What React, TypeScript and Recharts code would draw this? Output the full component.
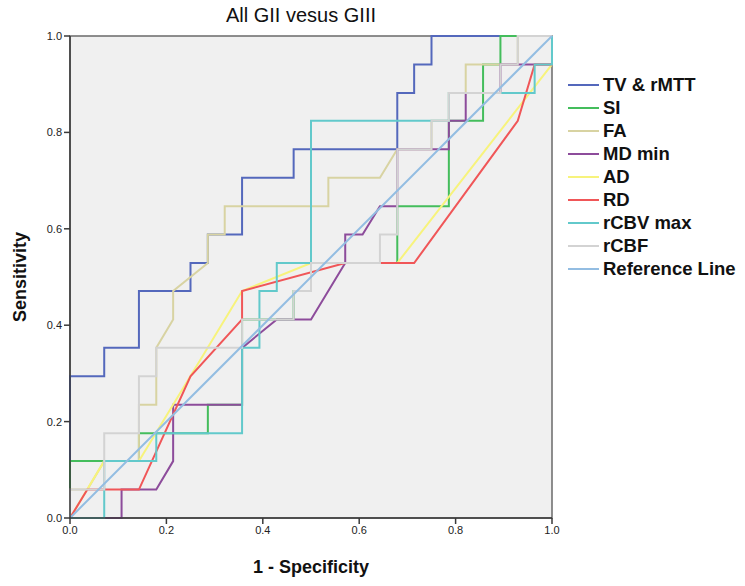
import { LineChart, Line, XAxis, YAxis, ReferenceArea } from 'recharts';

// ROC curves, [1 - specificity, sensitivity]
const TICKS = [0, 0.2, 0.4, 0.6, 0.8, 1.0];

const TV_RMTT = [[0, 0], [0, 0.294], [0.071, 0.294], [0.071, 0.353], [0.143, 0.353], [0.143, 0.471], [0.25, 0.471], [0.25, 0.529], [0.286, 0.529], [0.286, 0.588], [0.357, 0.588], [0.357, 0.706], [0.464, 0.706], [0.464, 0.765], [0.679, 0.765], [0.679, 0.882], [0.714, 0.882], [0.714, 0.941], [0.75, 0.941], [0.75, 1], [1, 1]];
const SI = [[0, 0], [0, 0.118], [0.143, 0.118], [0.143, 0.176], [0.286, 0.176], [0.286, 0.235], [0.357, 0.235], [0.357, 0.412], [0.464, 0.412], [0.464, 0.471], [0.5, 0.471], [0.5, 0.529], [0.679, 0.529], [0.679, 0.647], [0.786, 0.647], [0.786, 0.824], [0.857, 0.824], [0.857, 0.941], [0.893, 0.941], [0.893, 1], [1, 1]];
const FA = [[0, 0], [0, 0.059], [0.036, 0.059], [0.071, 0.118], [0.143, 0.118], [0.143, 0.235], [0.179, 0.235], [0.179, 0.353], [0.214, 0.412], [0.214, 0.471], [0.286, 0.529], [0.286, 0.588], [0.321, 0.588], [0.321, 0.647], [0.536, 0.647], [0.536, 0.706], [0.643, 0.706], [0.679, 0.765], [0.75, 0.765], [0.75, 0.824], [0.786, 0.824], [0.786, 0.882], [0.821, 0.882], [0.821, 0.941], [0.929, 0.941], [0.929, 1], [1, 1]];
const MD_MIN = [[0, 0], [0.107, 0], [0.107, 0.059], [0.179, 0.059], [0.214, 0.118], [0.214, 0.235], [0.357, 0.235], [0.357, 0.353], [0.429, 0.412], [0.5, 0.412], [0.571, 0.529], [0.571, 0.588], [0.607, 0.588], [0.643, 0.647], [0.679, 0.647], [0.679, 0.765], [0.786, 0.765], [0.786, 0.824], [0.821, 0.824], [0.821, 0.882], [0.893, 0.882], [0.893, 0.941], [0.964, 0.941], [1, 0.941], [1, 1]];
const AD = [[0, 0], [0.071, 0.118], [0.143, 0.118], [0.357, 0.471], [0.5, 0.529], [0.679, 0.529], [1, 0.941], [1, 1]];
const RD = [[0, 0], [0.036, 0.059], [0.143, 0.059], [0.25, 0.294], [0.357, 0.412], [0.357, 0.471], [0.571, 0.529], [0.714, 0.529], [0.929, 0.824], [0.964, 0.941], [1, 0.941], [1, 1]];
const RCBV_MAX = [[0, 0], [0.071, 0], [0.071, 0.118], [0.179, 0.118], [0.179, 0.176], [0.357, 0.176], [0.357, 0.353], [0.393, 0.353], [0.393, 0.471], [0.429, 0.471], [0.429, 0.529], [0.5, 0.529], [0.5, 0.824], [0.786, 0.824], [0.786, 0.882], [0.964, 0.882], [0.964, 0.941], [1, 0.941], [1, 1]];
const RCBF = [[0, 0], [0, 0.059], [0.071, 0.059], [0.071, 0.176], [0.143, 0.176], [0.143, 0.294], [0.179, 0.294], [0.179, 0.353], [0.357, 0.353], [0.357, 0.412], [0.464, 0.412], [0.464, 0.471], [0.5, 0.471], [0.5, 0.529], [0.643, 0.529], [0.643, 0.588], [0.679, 0.588], [0.679, 0.765], [0.75, 0.765], [0.75, 0.824], [0.786, 0.824], [0.786, 0.882], [0.893, 0.882], [0.893, 0.941], [0.929, 0.941], [0.929, 1], [1, 1]];
const REFERENCE = [[0, 0], [1, 1]];

const SERIES = [
  { name: 'TV & rMTT', color: '#5468bc', pts: TV_RMTT },
  { name: 'SI', color: '#44bd5c', pts: SI },
  { name: 'FA', color: '#d8d3a2', pts: FA },
  { name: 'MD min', color: '#8d4c9b', pts: MD_MIN },
  { name: 'AD', color: '#f7f37c', pts: AD },
  { name: 'RD', color: '#f05658', pts: RD },
  { name: 'rCBV max', color: '#62c9cb', pts: RCBV_MAX },
  { name: 'rCBF', color: '#d3d3d3', pts: RCBF },
  { name: 'Reference Line', color: '#93bde2', pts: REFERENCE },
];

const FONT = 'Arial, "Liberation Sans", sans-serif';
const AXIS = '#3a3a3a';
const TICK_STYLE = { fill: '#222', fontSize: 11, fontFamily: FONT };

const toRows = (pts: number[][]) => pts.map(([fpr, tpr]) => ({ fpr, tpr }));

function XTitle({ viewBox }: any) {
  return (
    <text x={viewBox.x + viewBox.width / 2} y={viewBox.y + 55} textAnchor="middle"
      fontFamily={FONT} fontSize={18} fontWeight="bold" fill="#111">
      1 - Specificity
    </text>
  );
}

function YTitle({ viewBox }: any) {
  const cy = viewBox.y + viewBox.height / 2;
  return (
    <text x={26} y={cy} transform={`rotate(-90, 26, ${cy})`} textAnchor="middle"
      fontFamily={FONT} fontSize={18} fontWeight="bold" fill="#111">
      Sensitivity
    </text>
  );
}

export default function App() {
  return (
    <div style={{ position: 'absolute', left: 0, top: 0, width: 745, height: 586, background: '#fff', fontFamily: FONT }}>
      <div style={{ position: 'absolute', left: 151, width: 300, top: 4, textAlign: 'center', fontSize: 20, color: '#111' }}>
        All GII vesus GIII
      </div>
      <LineChart width={745} height={586} margin={{ top: 36, right: 193, bottom: 0, left: 0 }}>
        <XAxis
          type="number"
          dataKey="fpr"
          domain={[0, 1]}
          ticks={TICKS}
          tickFormatter={(v: number) => v.toFixed(1)}
          height={68}
          tick={TICK_STYLE}
          tickSize={6}
          axisLine={{ stroke: AXIS, strokeWidth: 1.5 }}
          tickLine={{ stroke: AXIS, strokeWidth: 1.5 }}
          label={{ content: XTitle }}
        />
        <YAxis
          type="number"
          domain={[0, 1]}
          ticks={TICKS}
          tickFormatter={(v: number) => v.toFixed(1)}
          width={70}
          tick={TICK_STYLE}
          tickSize={6}
          axisLine={{ stroke: AXIS, strokeWidth: 1.5 }}
          tickLine={{ stroke: AXIS, strokeWidth: 1.5 }}
          label={{ content: YTitle }}
        />
        <ReferenceArea x1={0} x2={1} y1={0} y2={1} fill="#f0f0f0" fillOpacity={1} stroke="#6a6a6a" strokeWidth={1.5} />
        {SERIES.map((s) => (
          <Line
            key={s.name}
            data={toRows(s.pts)}
            dataKey="tpr"
            type="linear"
            stroke={s.color}
            strokeWidth={2}
            dot={false}
            activeDot={false}
            isAnimationActive={false}
          />
        ))}
      </LineChart>
      <div style={{ position: 'absolute', left: 567, top: 73 }}>
        {SERIES.map((s) => (
          <div key={s.name} style={{ display: 'flex', alignItems: 'center', height: 23 }}>
            <svg width={33} height={6} style={{ marginRight: 3 }}>
              <line x1={1} y1={3} x2={32} y2={3} stroke={s.color} strokeWidth={2} />
            </svg>
            <span style={{ fontSize: 18.5, fontWeight: 'bold', color: '#111', whiteSpace: 'nowrap' }}>{s.name}</span>
          </div>
        ))}
      </div>
    </div>
  );
}
